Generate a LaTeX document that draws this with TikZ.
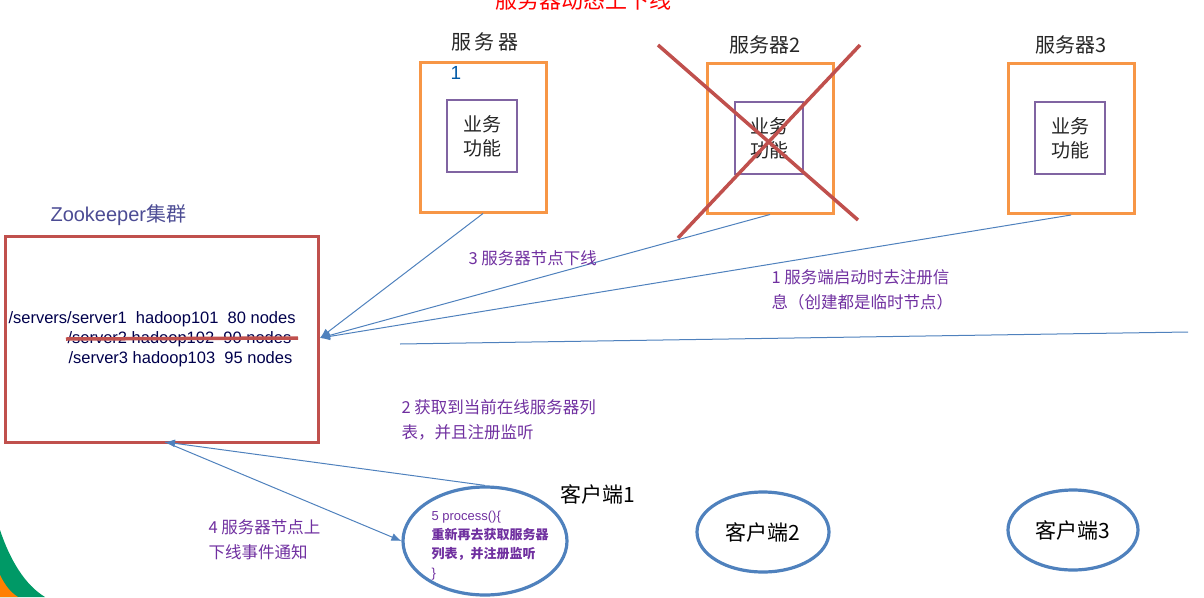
\documentclass[tikz,border=0pt]{standalone}
\usepackage{fontspec}
\setmainfont{Liberation Sans}
\newfontfamily\cjk{Noto Sans CJK SC}
\definecolor{orn}{HTML}{F79646}
\definecolor{rd}{HTML}{C0504D}
\definecolor{pu}{HTML}{8064A2}
\definecolor{bl}{HTML}{4F81BD}
\definecolor{tx}{HTML}{7030A0}
\begin{document}
\begin{tikzpicture}[x=1pt,y=-1pt,
  srv/.style={draw=orn,line width=3pt,minimum width=126pt,minimum height=150pt},
  biz/.style={draw=pu,line width=2.5pt,minimum width=70pt,minimum height=72pt,align=center,font=\cjk\fontsize{19}{24}\selectfont,text=black!85},
  lbl/.style={font=\cjk\fontsize{20}{22}\selectfont,text=black!85},
  note/.style={font=\cjk\fontsize{16.5}{25}\selectfont,text=tx,align=left,anchor=north west},
  cl/.style={draw=bl,line width=3.2pt,ellipse,inner sep=0pt},
  ln/.style={draw=bl,line width=1pt},
  arr/.style={ln,-{Latex[length=10pt,width=8pt]}},
  zk/.style={font=\fontsize{16.5}{18}\selectfont,text=blue!30!black,anchor=west}]
\usetikzlibrary{arrows.meta,shapes.geometric}
\useasboundingbox (0,0) rectangle (1204,597);
\clip (0,0) rectangle (1204,597);
\fill[teal!80!green] (0,530) .. controls (10,560) and (25,585) .. (45,597) -- (0,597) -- cycle;
\fill[orange] (0,575) .. controls (5,585) and (10,592) .. (18,597) -- (0,597) -- cycle;
\node[text=red,font=\cjk\fontsize{22}{22}\selectfont,anchor=north] (title) at (583,-14) {服务器动态上下线};
\node[srv] (s1) at (483,137) {};
\node[srv] (s2) at (770,138) {};
\node[srv] (s3) at (1071,138.5) {};
\node[lbl] (s1l) at (485,42) {服\,务\,器};
\node[font=\fontsize{19}{20}\selectfont,text=teal!70!blue] (s1n) at (456,73) {1};
\node[lbl] (s2l) at (765,45) {服务器2};
\node[lbl] (s3l) at (1071,45) {服务器3};
\node[biz] (b1) at (482,136) {业务\\功能};
\node[biz,minimum width=68pt] (b2) at (769,138) {业务\\功能};
\node[biz] (b3) at (1070,138) {业务\\功能};
\draw[rd,line width=3.5pt] (658,45) -- (858,220);
\draw[rd,line width=3.5pt] (860,45) -- (678,238);
\node[font=\fontsize{20}{20}\selectfont,text=blue!40!black!70,anchor=west] (zkl) at (47,215) {Zookeeper{\cjk 集群}};
\draw[rd,line width=3pt] (5,236) rectangle (318,442);
\coordinate (zkr) at (320,338);
\coordinate (zkb) at (165,442);
\node[zk] (r1) at (5,319) {/servers/server1\ \ hadoop101\ \ 80 nodes};
\node[zk] (r2) at (64,339) {/server2 hadoop102\ \ 90 nodes};
\node[zk] (r3) at (65,359) {/server3 hadoop103\ \ 95 nodes};
\draw[rd,line width=3.5pt] (66,339) -- (298,338);
\draw[arr] (s1.south) -- (zkr);
\draw[arr] (s2.south) -- (zkr);
\draw[arr] (s3.south) -- (zkr);
\coordinate (la) at (400,344);
\coordinate (lb) at (1188,332);
\draw[ln] (la) -- (lb);
\node[note] (n3) at (465,247) {3 服务器节点下线};
\node[note] (n1) at (768,266) {1 服务端启动时去注册信\\息（创建都是临时节点）};
\node[note] (n2) at (398,396) {2 获取到当前在线服务器列\\表，并且注册监听};
\node[note] (n4) at (205,516) {4 服务器节点上\\下线事件通知};
\node[cl,minimum width=164pt,minimum height=108pt] (c1) at (485,541) {};
\node[font=\fontsize{13}{19}\selectfont,text=tx,align=left,anchor=north west] (c1t) at (428,508) {5 process()\{\\{\cjk\bfseries 重新再去获取服务器}\\{\cjk\bfseries 列表，并注册监听}\\\}};
\node[font=\cjk\fontsize{21}{22}\selectfont] (c1l) at (598,494) {客户端1};
\node[cl,minimum width=132pt,minimum height=80pt,font=\cjk\fontsize{21}{22}\selectfont] (c2) at (763,532) {客户端2};
\node[cl,minimum width=130pt,minimum height=80pt,font=\cjk\fontsize{21}{22}\selectfont] (c3) at (1073,530) {客户端3};
\draw[arr] (c1.north) -- (zkb);
\draw[arr] (zkb) -- (c1.west);
\end{tikzpicture}
\end{document}
